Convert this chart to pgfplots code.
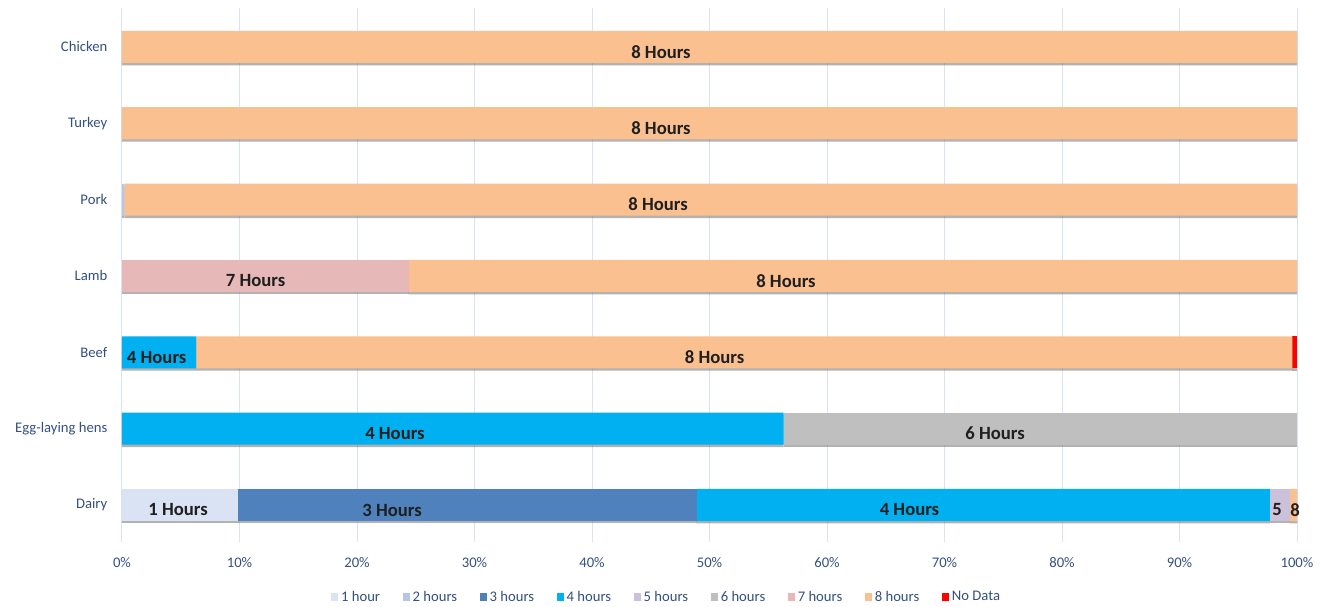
\documentclass[border=0pt]{standalone}
\usepackage{pgfplots}
\pgfplotsset{compat=1.18}
\usepackage{pgfplotstable}
\usepackage{fontspec}
\setmainfont{Carlito}
\usetikzlibrary{shadows}
\definecolor{c1}{HTML}{DAE3F3}
\definecolor{c2}{HTML}{B4C7E7}
\definecolor{c3}{HTML}{4F81BD}
\definecolor{c4}{HTML}{00B0F0}
\definecolor{c5}{HTML}{CCC1DA}
\definecolor{c6}{HTML}{BFBFBF}
\definecolor{c7}{HTML}{E6B9B8}
\definecolor{c8}{HTML}{FAC090}
\definecolor{cnd}{HTML}{FF0000}
\definecolor{txt}{HTML}{34507F}
\definecolor{gridc}{HTML}{D9E3F3}

% rows: 0 Dairy, 1 Egg-laying hens, 2 Beef, 3 Lamb, 4 Pork, 5 Turkey, 6 Chicken
% off = label position relative to the segment centre (in %)
\pgfplotstableread{
idx v lab off
0 9.9 {1 Hours} -0.18
1 0 {} 0
2 0 {} 0
3 0 {} 0
4 0 {} 0
5 0 {} 0
6 0 {} 0
}\tA
\pgfplotstableread{
idx v
0 0
1 0
2 0
3 0
4 0.2
5 0
6 0
}\tB
\pgfplotstableread{
idx v lab off
0 39.0 {3 Hours} -6.42
1 0 {} 0
2 0 {} 0
3 0 {} 0
4 0 {} 0
5 0 {} 0
6 0 {} 0
}\tC
\pgfplotstableread{
idx v lab off
0 48.8 {4 Hours} -6.28
1 56.3 {4 Hours} -4.92
2 6.3 {4 Hours} -0.20
3 0 {} 0
4 0 {} 0
5 0 {} 0
6 0 {} 0
}\tD
\pgfplotstableread{
idx v lab off
0 1.7 {5} -0.25
1 0 {} 0
2 0 {} 0
3 0 {} 0
4 0 {} 0
5 0 {} 0
6 0 {} 0
}\tE
\pgfplotstableread{
idx v lab off
0 0 {} 0
1 43.7 {6 Hours} -3.85
2 0 {} 0
3 0 {} 0
4 0 {} 0
5 0 {} 0
6 0 {} 0
}\tF
\pgfplotstableread{
idx v lab off
0 0 {} 0
1 0 {} 0
2 0 {} 0
3 24.4 {7 Hours} -0.83
4 0 {} 0
5 0 {} 0
6 0 {} 0
}\tG
\pgfplotstableread{
idx v lab off
0 0.6 {8} 0.13
1 0 {} 0
2 93.3 {8 Hours} -2.52
3 75.6 {8 Hours} -5.69
4 99.8 {8 Hours} -4.48
5 100 {8 Hours} -4.13
6 100 {8 Hours} -4.13
}\tH
\pgfplotstableread{
idx v
0 0
1 0
2 0.4
3 0
4 0
5 0
6 0
}\tI

\begin{document}
\begin{tikzpicture}
\useasboundingbox (0,0) rectangle (999pt,455.25pt);
\begin{axis}[
  at={(91.5pt,48.75pt)}, anchor=south west,
  width=881.25pt, height=400.5pt, scale only axis,
  xbar stacked, bar width=0.42,
  xmin=0, xmax=100, ymin=-0.485, ymax=6.51,
  xtick={0,10,...,100},
  xticklabels={0\%,10\%,20\%,30\%,40\%,50\%,60\%,70\%,80\%,90\%,100\%},
  ytick={0,...,6},
  yticklabels={Dairy,Egg-laying hens,Beef,Lamb,Pork,Turkey,Chicken},
  xmajorgrids, major grid style={gridc, line width=0.75pt},
  axis line style={draw=none}, major tick length=0pt,
  tick label style={font=\fontsize{11}{13}\selectfont, text=txt},
  xticklabel style={anchor=center, yshift=-15.75pt},
  yticklabel style={anchor=east, xshift=-7.5pt},
  every shadow/.style={opacity=0.06},
  every axis plot/.append style={draw=none,
     drop shadow={shadow xshift=0pt, shadow yshift=-1.8pt, fill=black!60}},
  lbl/.style={nodes near coords, point meta=explicit symbolic,
     visualization depends on={\thisrow{off}\as\lbloff},
     every node near coord/.append style={anchor=center,
        xshift={8.8125*\lbloff*1pt}, yshift=-3.75pt,
        font=\bfseries\fontsize{14}{16}\selectfont, text=black!88, inner sep=0pt}},
  legend style={at={(0.4638,-0.103)}, anchor=center, draw=none, fill=none,
     font=\fontsize{11}{13}\selectfont, text=txt,
     /tikz/every even column/.append style={column sep=15pt}},
  legend columns=-1,
  legend image code/.code={\fill[#1, every shadow/.style={opacity=0}] (0pt,-2.7pt) rectangle (5.4pt,2.7pt);},
]
\addplot[fill=c1, lbl] table[x=v, y=idx, meta=lab]{\tA};
\addlegendentry{1 hour}
\addplot[fill=c2] table[x=v, y=idx]{\tB};
\addlegendentry{2 hours}
\addplot[fill=c3, lbl] table[x=v, y=idx, meta=lab]{\tC};
\addlegendentry{3 hours}
\addplot[fill=c4, lbl] table[x=v, y=idx, meta=lab]{\tD};
\addlegendentry{4 hours}
\addplot[fill=c5, lbl] table[x=v, y=idx, meta=lab]{\tE};
\addlegendentry{5 hours}
\addplot[fill=c6, lbl] table[x=v, y=idx, meta=lab]{\tF};
\addlegendentry{6 hours}
\addplot[fill=c7, lbl] table[x=v, y=idx, meta=lab]{\tG};
\addlegendentry{7 hours}
\addplot[fill=c8, lbl] table[x=v, y=idx, meta=lab]{\tH};
\addlegendentry{8 hours}
\addplot[fill=cnd] table[x=v, y=idx]{\tI};
\addlegendentry{No Data}
\end{axis}
\end{tikzpicture}
\end{document}
